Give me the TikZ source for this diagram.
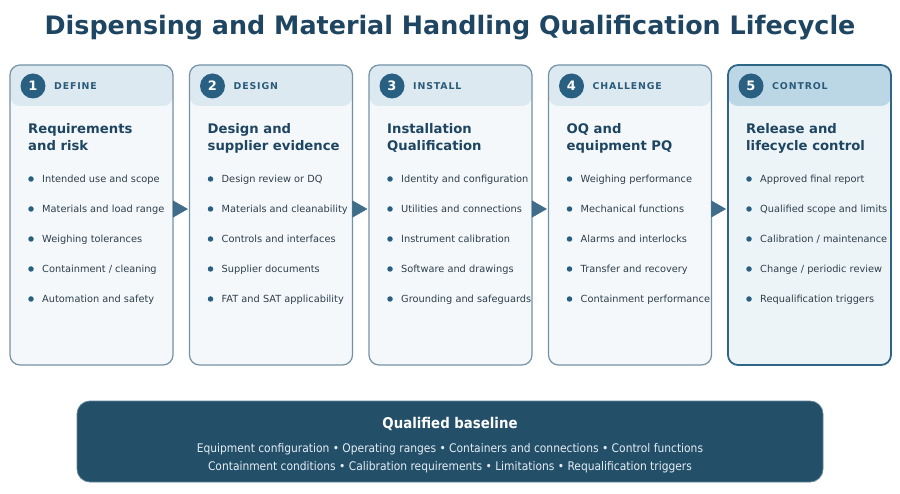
\documentclass[tikz,border=0pt]{standalone}
\usepackage{fontspec}
\setmainfont{DejaVu Sans}
\newfontfamily\condfont{DejaVu Sans Condensed}
\usetikzlibrary{arrows.meta}
\definecolor{titlec}{HTML}{1E4561}
\definecolor{headbg}{HTML}{DCE9F1}
\definecolor{headbgx}{HTML}{BBD7E6}
\definecolor{bodybg}{HTML}{F4F8FB}
\definecolor{bodybgx}{HTML}{EDF4F8}
\definecolor{cardline}{HTML}{7592A5}
\definecolor{cardlinex}{HTML}{2F6586}
\definecolor{circc}{HTML}{295F80}
\definecolor{labc}{HTML}{2B5B79}
\definecolor{textc}{HTML}{2E3F4B}
\definecolor{arrowc}{HTML}{3F6D89}
\definecolor{basebg}{HTML}{234F69}
\definecolor{baseline}{HTML}{5E8399}
\definecolor{basetext}{HTML}{E4EDF3}
\tikzset{
  cardbox/.style={draw=cardline, line width=1.2pt, fill=bodybg, rounded corners=10pt,
    minimum width=163pt, minimum height=300pt, inner sep=0pt,
    path picture={\fill[headbg] (path picture bounding box.north west) rectangle ([yshift=-41pt]path picture bounding box.north east);}},
  lastcard/.style={draw=cardlinex, line width=1.8pt, fill=bodybgx,
    path picture={\fill[headbgx] (path picture bounding box.north west) rectangle ([yshift=-41pt]path picture bounding box.north east);}},
  numcirc/.style={circle, fill=circc, minimum size=25pt, inner sep=0pt, text=white, font=\fontsize{13}{15}\selectfont\bfseries},
  headlab/.style={anchor=west, inner sep=0pt, text=labc, font=\fontsize{9.4}{11}\selectfont\bfseries\addfontfeatures{LetterSpace=9}},
  cardtitle/.style={anchor=base west, inner sep=0pt, text=titlec, font=\fontsize{13.2}{16}\selectfont\bfseries},
  bullettext/.style={anchor=base west, inner sep=0pt, text=textc, font=\fontsize{9.8}{12}\selectfont},
  bulletdot/.style={circle, fill=circc, minimum size=5.5pt, inner sep=0pt},
  flowarrow/.style={draw=arrowc, line width=0.6pt, -{Triangle[length=15pt,width=17pt]}, fill=arrowc},
}
\begin{document}
\begin{tikzpicture}[x=1pt,y=-1pt]
\useasboundingbox (0,0) rectangle (900,494);
\node[text=titlec, font=\fontsize{25.4}{30}\selectfont\bfseries] (title) at (450,27.5) {Dispensing and Material Handling Qualification Lifecycle};

\foreach \i/\lab/\ta/\tb/\ba/\bb/\bc/\bd/\be in {
 1/DEFINE/Requirements/and risk/Intended use and scope/Materials and load range/Weighing tolerances/{Containment / cleaning}/Automation and safety,
 2/DESIGN/Design and/supplier evidence/Design review or DQ/Materials and cleanability/Controls and interfaces/Supplier documents/FAT and SAT applicability,
 3/INSTALL/Installation/Qualification/Identity and configuration/Utilities and connections/Instrument calibration/Software and drawings/Grounding and safeguards,
 4/CHALLENGE/OQ and/equipment PQ/Weighing performance/Mechanical functions/Alarms and interlocks/Transfer and recovery/Containment performance,
 5/CONTROL/Release and/lifecycle control/Approved final report/Qualified scope and limits/{Calibration / maintenance}/{Change / periodic review}/Requalification triggers}{
  \pgfmathsetmacro{\L}{10+179.5*(\i-1)}
  \ifnum\i=5
    \node[cardbox, lastcard] (card\i) at (\L+81.5,215) {};
  \else
    \node[cardbox] (card\i) at (\L+81.5,215) {};
  \fi
  \node[numcirc] (num\i) at (\L+23,86) {\i};
  \node[headlab] (lab\i) at (\L+44,86) {\lab};
  \node[cardtitle] (ta\i) at (\L+18,134) {\ta};
  \node[cardtitle] (tb\i) at (\L+18,151) {\tb};
  \foreach \t [count=\k] in {{\ba},{\bb},{\bc},{\bd},{\be}}{
    \pgfmathsetmacro{\yy}{179+30*(\k-1)}
    \node[bulletdot] (d\i-\k) at (\L+21,\yy) {};
    \node[bullettext] (b\i-\k) at (\L+32,\yy+3.6) {\t};
  }
}
\foreach \i [evaluate=\i as \j using int(\i+1)] in {1,...,4}{
  \draw[flowarrow] (card\i.east |- 0,209) -- ([xshift=-1pt]card\j.west |- 0,209);
}

\node[draw=baseline, line width=0.8pt, fill=basebg, rounded corners=13pt, minimum width=746pt, minimum height=81pt, inner sep=0pt] (base) at (450,441.5) {};
\node[text=white, font=\condfont\fontsize{14.8}{17}\selectfont\bfseries] (basetitle) at (450,424) {Qualified baseline};
\node[text=basetext, font=\condfont\fontsize{11.9}{14}\selectfont] (baseline1) at (450,449) {Equipment configuration • Operating ranges • Containers and connections • Control functions};
\node[text=basetext, font=\condfont\fontsize{11.9}{14}\selectfont] (baseline2) at (450,467) {Containment conditions • Calibration requirements • Limitations • Requalification triggers};
\end{tikzpicture}
\end{document}
